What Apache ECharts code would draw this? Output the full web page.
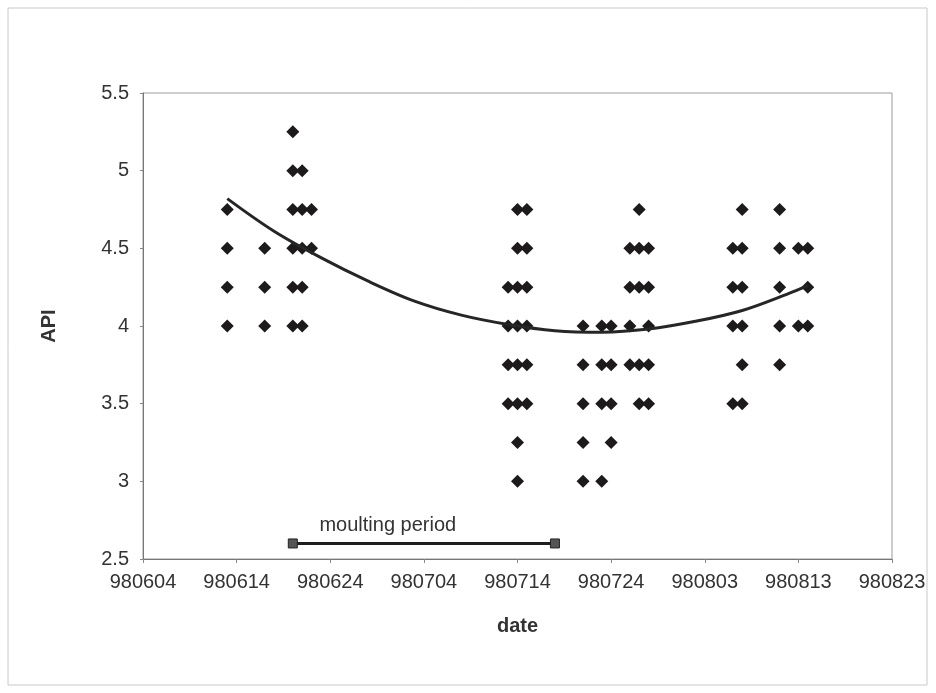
<!DOCTYPE html>
<html>
<head>
<meta charset="utf-8">
<script src="https://cdn.jsdelivr.net/npm/echarts@6/dist/echarts.min.js"></script>
<style>
  html, body { margin: 0; padding: 0; background: #ffffff; }
  #chart { width: 936px; height: 693px; }
</style>
</head>
<body>
<div id="chart"></div>
<script>
// ---- data (dates as YYMMDD) ----
const xTickLabels = ['980604', '980614', '980624', '980704', '980714', '980724', '980803', '980813', '980823'];

const obsDates = ['980613', '980617', '980620', '980621', '980622',
                  '980713', '980714', '980715',
                  '980721', '980723', '980724', '980726', '980727', '980728',
                  '980806', '980807', '980811', '980813', '980814'];
const obsValues = [
  [4.75, 4.5, 4.25, 4.0],
  [4.5, 4.25, 4.0],
  [5.25, 5.0, 4.75, 4.5, 4.25, 4.0],
  [5.0, 4.75, 4.5, 4.25, 4.0],
  [4.75, 4.5],
  [4.25, 4.0, 3.75, 3.5],
  [4.75, 4.5, 4.25, 4.0, 3.75, 3.5, 3.25, 3.0],
  [4.75, 4.5, 4.25, 4.0, 3.75, 3.5],
  [4.0, 3.75, 3.5, 3.25, 3.0],
  [4.0, 3.75, 3.5, 3.0],
  [4.0, 3.75, 3.5, 3.25],
  [4.5, 4.25, 4.0, 3.75],
  [4.75, 4.5, 4.25, 3.75, 3.5],
  [4.5, 4.25, 4.0, 3.75, 3.5],
  [4.5, 4.25, 4.0, 3.5],
  [4.75, 4.5, 4.25, 4.0, 3.75, 3.5],
  [4.75, 4.5, 4.25, 4.0, 3.75],
  [4.5, 4.0],
  [4.5, 4.25, 4.0]
];

const trendDates  = ['980613', '980618', '980623', '980628', '980703', '980708', '980713',
                     '980718', '980723', '980728', '980802', '980807', '980812', '980814'];
const trendValues = [4.82, 4.61, 4.44, 4.29, 4.16, 4.07, 4.01, 3.97, 3.96, 3.98, 4.03, 4.10, 4.21, 4.26];

const moultDates  = ['980620', '980718'];
const moultValues = [2.6, 2.6];
const moultLabel  = 'moulting period';

// ---- helpers ----
const startDate = '980604';
function toDay(s) {
  const y = 1900 + parseInt(s.slice(0, 2), 10);
  const m = parseInt(s.slice(2, 4), 10) - 1;
  const d = parseInt(s.slice(4, 6), 10);
  return Date.UTC(y, m, d) / 86400000;
}
const day0 = toDay(startDate);
const dayOf = s => toDay(s) - day0;

const scatterData = [];
obsDates.forEach((ds, i) => obsValues[i].forEach(v => scatterData.push([dayOf(ds), v])));
const trendData = trendDates.map((ds, i) => [dayOf(ds), trendValues[i]]);
const moultData = moultDates.map((ds, i) => [dayOf(ds), moultValues[i]]);

const FONT = '"Liberation Sans", Arial, sans-serif';
const chart = echarts.init(document.getElementById('chart'), null, { renderer: 'canvas' });

chart.setOption({
  animation: false,
  backgroundColor: '#ffffff',
  graphic: [{
    type: 'rect', shape: { x: 8, y: 8, width: 919, height: 677 },
    style: { fill: 'none', stroke: '#c8c8c8', lineWidth: 1 }, silent: true, z: -1
  }],
  grid: {
    left: 143, right: 44, top: 93, bottom: 134,
    show: true, borderColor: '#9a9a9a', borderWidth: 1, backgroundColor: 'transparent'
  },
  xAxis: {
    type: 'value', min: 0, max: 80, interval: 10,
    name: 'date', nameLocation: 'middle', nameGap: 57,
    nameTextStyle: { fontFamily: FONT, fontSize: 20, fontWeight: 'bold', color: '#333' },
    axisLine: { show: true, lineStyle: { color: '#777', width: 1 } },
    axisTick: { show: true, length: 4, inside: false, lineStyle: { color: '#888' } },
    splitLine: { show: false },
    axisLabel: {
      fontFamily: FONT, fontSize: 20, color: '#333', margin: 13,
      formatter: v => xTickLabels[Math.round(v / 10)]
    }
  },
  yAxis: {
    type: 'value', min: 2.5, max: 5.5, interval: 0.5,
    name: 'API', nameLocation: 'middle', nameGap: 84, nameRotate: 90,
    nameTextStyle: { fontFamily: FONT, fontSize: 20, fontWeight: 'bold', color: '#333' },
    axisLine: { show: true, lineStyle: { color: '#777', width: 1 } },
    axisTick: { show: true, length: 3, lineStyle: { color: '#888' } },
    splitLine: { show: false },
    axisLabel: { fontFamily: FONT, fontSize: 20, color: '#333', margin: 14 }
  },
  series: [
    {
      type: 'scatter', data: scatterData,
      symbol: 'diamond', symbolSize: [13, 13],
      itemStyle: { color: '#1c1a1b', opacity: 1 }, z: 3
    },
    {
      type: 'line', data: trendData, smooth: 0.35,
      showSymbol: false, symbol: 'none',
      lineStyle: { color: '#262626', width: 3 }, z: 4
    },
    {
      type: 'line', data: moultData,
      symbol: 'rect', symbolSize: 9, showSymbol: true,
      lineStyle: { color: '#1e1e1e', width: 3 },
      itemStyle: { color: '#555', borderColor: '#222', borderWidth: 1 },
      label: {
        show: true, position: 'top', offset: [95, 2], distance: 5,
        fontFamily: FONT, fontSize: 20, color: '#333',
        formatter: p => (p.dataIndex === 0 ? moultLabel : '')
      }, z: 4
    }
  ]
});
</script>
</body>
</html>
